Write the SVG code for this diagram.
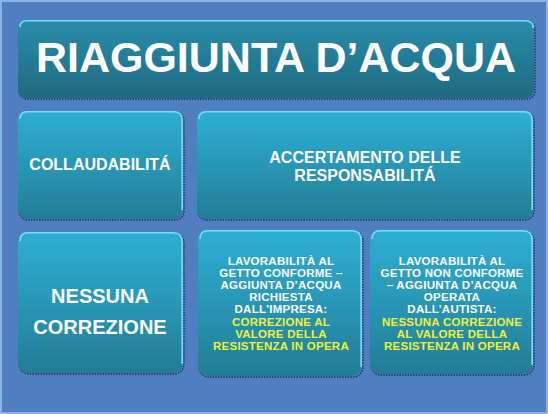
<svg xmlns="http://www.w3.org/2000/svg" width="548" height="414" viewBox="0 0 548 414">
<defs>
<linearGradient id="gBox" x1="0" y1="0" x2="0" y2="1">
<stop offset="0" stop-color="#2eaed4"/>
<stop offset="0.5" stop-color="#2897b6"/>
<stop offset="1" stop-color="#237c94"/>
</linearGradient>
<linearGradient id="gTitle" x1="0" y1="0" x2="0" y2="1">
<stop offset="0" stop-color="#2a8dab"/>
<stop offset="1" stop-color="#1e6a80"/>
</linearGradient>
</defs>
<style>
.bg{fill:#4f7fc0;stroke:#8db2e6;stroke-width:2}
.box{fill:url(#gBox)}
.title{fill:url(#gTitle)}
.shadow{fill:none;stroke:#1d2f55;stroke-width:1.4;stroke-dasharray:1.5 1.2}
.hl{fill:none;stroke:#74e2f6;stroke-width:1.6}
.t{font-family:"Liberation Sans",Arial,sans-serif;font-weight:bold;fill:#ffffff;text-anchor:middle}
.y{fill:#eef23c}
.s{font-size:11.5px;letter-spacing:0.25px}
</style>
<rect class="bg" x="1" y="1" width="546" height="412"/>

<g id="node-title">
<rect class="shadow" x="19" y="21" width="516" height="78" rx="8"/>
<rect class="title" x="18" y="20" width="516" height="78" rx="8"/>
<path class="hl" d="M20,27 Q20,20.8 27,20.8 L525,20.8 Q533.2,20.8 533.2,28"/>
<text class="t" x="276" y="72" font-size="43">RIAGGIUNTA D’ACQUA</text>
</g>

<g id="node-collaudabilita">
<rect class="shadow" x="19" y="112" width="165" height="108" rx="9"/>
<rect class="box" x="18" y="111" width="165" height="108" rx="9"/>
<path class="hl" d="M20,119 Q20,111.8 27,111.8 L174,111.8 Q182.2,111.8 182.2,120 L182.2,210"/>
<text class="t" x="100" y="170" font-size="16">COLLAUDABILITÁ</text>
</g>

<g id="node-accertamento">
<rect class="shadow" x="198" y="112" width="336" height="108" rx="9"/>
<rect class="box" x="197" y="111" width="336" height="108" rx="9"/>
<path class="hl" d="M199,119 Q199,111.8 206,111.8 L524,111.8 Q532.2,111.8 532.2,120 L532.2,210"/>
<text class="t" x="365" y="163" font-size="16">ACCERTAMENTO DELLE</text>
<text class="t" x="365" y="181" font-size="16">RESPONSABILITÁ</text>
</g>

<g id="node-nessuna">
<rect class="shadow" x="19" y="233" width="165" height="141" rx="10"/>
<rect class="box" x="18" y="232" width="165" height="141" rx="10"/>
<path class="hl" d="M20,241 Q20,232.8 28,232.8 L173,232.8 Q182.2,232.8 182.2,242 L182.2,364"/>
<text class="t" x="100" y="303" font-size="20">NESSUNA</text>
<text class="t" x="100" y="334" font-size="20">CORREZIONE</text>
</g>

<g id="node-conforme">
<rect class="shadow" x="199" y="231" width="164" height="146" rx="10"/>
<rect class="box" x="198" y="230" width="164" height="146" rx="10"/>
<path class="hl" d="M200,239 Q200,230.8 208,230.8 L352,230.8 Q361.2,230.8 361.2,240 L361.2,367"/>
<text class="t s" x="281" y="265">LAVORABILITÀ AL</text>
<text class="t s" x="281" y="277">GETTO CONFORME –</text>
<text class="t s" x="281" y="289">AGGIUNTA D’ACQUA</text>
<text class="t s" x="281" y="301">RICHIESTA</text>
<text class="t s" x="281" y="313">DALL'IMPRESA:</text>
<text class="t s y" x="281" y="326">CORREZIONE AL</text>
<text class="t s y" x="281" y="338">VALORE DELLA</text>
<text class="t s y" x="281" y="350">RESISTENZA IN OPERA</text>
</g>

<g id="node-non-conforme">
<rect class="shadow" x="371" y="231" width="163" height="144" rx="10"/>
<rect class="box" x="370" y="230" width="163" height="144" rx="10"/>
<path class="hl" d="M372,239 Q372,230.8 380,230.8 L523,230.8 Q532.2,230.8 532.2,240 L532.2,365"/>
<text class="t s" x="452" y="265">LAVORABILITÀ AL</text>
<text class="t s" x="452" y="277">GETTO NON CONFORME</text>
<text class="t s" x="452" y="289">– AGGIUNTA D’ACQUA</text>
<text class="t s" x="452" y="301">OPERATA</text>
<text class="t s" x="452" y="313">DALL’AUTISTA:</text>
<text class="t s y" x="452" y="326">NESSUNA CORREZIONE</text>
<text class="t s y" x="452" y="338">AL VALORE DELLA</text>
<text class="t s y" x="452" y="350">RESISTENZA IN OPERA</text>
</g>
</svg>
